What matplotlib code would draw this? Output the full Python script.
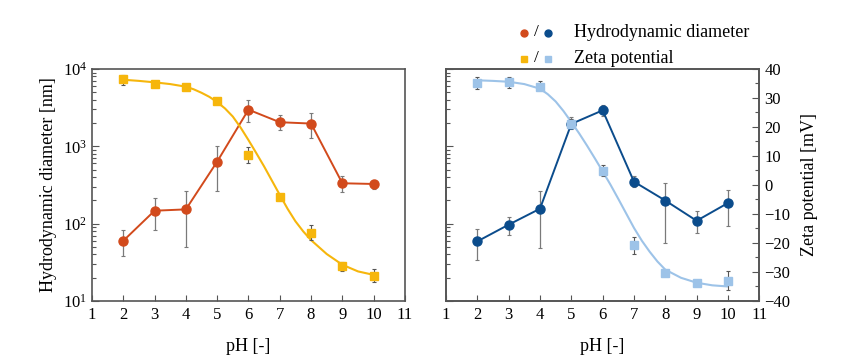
import matplotlib
matplotlib.use("Agg")
import matplotlib.pyplot as plt
from matplotlib.ticker import LogLocator, MultipleLocator, NullFormatter
import numpy as np

plt.rcParams['font.family'] = ['Liberation Serif', 'DejaVu Serif']
plt.rcParams['mathtext.fontset'] = 'stix'

# --- data ---
ph = [2, 3, 4, 5, 6, 7, 8, 9, 10]

# left sample: hydrodynamic diameter [nm] with error bar ends
d_left = [60, 147, 153, 634, 2980, 2050, 1970, 333, 326]
d_left_lo = [38, 83, 49.5, 265, 2090, 1630, 1270, 259, 284]
d_left_hi = [83, 213, 262, 1020, 3980, 2550, 2680, 414, 367]

# left sample: zeta potential [mV]
z_left = [36.4, 34.8, 33.8, 29.0, 10.3, -4.0, -16.4, -27.9, -31.3]
z_left_lo = [34.5, 33.7, 32.8, 27.8, 7.5, -4.9, -19.0, -29.6, -33.6]
z_left_hi = [37.9, 35.9, 34.8, 29.9, 13.2, -3.1, -13.8, -26.4, -29.0]

# right sample: hydrodynamic diameter [nm]
d_right = [59, 97, 156, 1950, 2920, 349, 199, 109, 185]
d_right_lo = [34, 72, 48.5, 1680, 2500, 295, 56, 76, 94]
d_right_hi = [85, 123, 262, 2380, 3450, 409, 336, 144, 275]

# right sample: zeta potential [mV]
z_right = [35.3, 35.5, 33.9, 21.0, 4.8, -20.8, -30.4, -33.8, -33.1]
z_right_lo = [33.0, 33.6, 33.0, 19.8, 3.2, -23.9, -31.3, -34.6, -36.3]
z_right_hi = [37.4, 37.4, 36.0, 22.9, 6.8, -17.8, -29.4, -32.9, -29.7]

# fitted zeta curves
fit_ph = [2, 2.5, 3, 3.5, 4, 4.25, 4.5, 4.75, 5, 5.25, 5.5, 5.75, 6, 6.25, 6.5,
          6.75, 7, 7.25, 7.5, 7.75, 8, 8.5, 9, 9.5, 10]
fit_left = [36.3, 35.9, 35.4, 34.8, 33.9, 33.0, 31.8, 30.4, 28.6, 26.4, 23.6, 19.8,
            15.5, 11.0, 6.4, 1.5, -3.4, -8.2, -12.5, -16.0, -19.0, -23.8, -27.5,
            -29.8, -31.0]
fit_right = [36.1, 35.9, 35.6, 34.8, 33.2, 31.3, 28.8, 25.5, 21.7, 17.8, 13.6, 9.2,
             4.7, 0.1, -4.8, -9.8, -14.8, -19.2, -23.0, -26.4, -29.2, -32.0, -33.7,
             -34.6, -35.0]

ORANGE = '#D24A1C'
YELLOW = '#F6B60C'
DBLUE = '#0B4C8C'
LBLUE = '#9DC3E8'
GREY = '#7A7A7A'
SPINE = '#555555'


def asym(y, lo, hi):
    y = np.array(y); lo = np.array(lo); hi = np.array(hi)
    return [y - lo, hi - y]


def style_log(ax, labels=True):
    ax.set_yscale('log')
    ax.set_ylim(10, 1e4)
    ax.set_xlim(1, 11)
    ax.set_xticks(range(1, 12))
    ax.yaxis.set_major_locator(LogLocator(base=10, numticks=10))
    ax.yaxis.set_minor_locator(LogLocator(base=10, subs=np.arange(2, 10), numticks=10))
    ax.yaxis.set_minor_formatter(NullFormatter())
    ax.tick_params(axis='x', direction='in', length=4, width=0.8, color=SPINE,
                   labelsize=12, pad=4)
    ax.tick_params(axis='y', which='both', direction='in', color=SPINE, width=0.8,
                   left=True, labelleft=labels, labelsize=12)
    ax.tick_params(axis='y', which='major', length=5)
    ax.tick_params(axis='y', which='minor', length=3)
    for s in ax.spines.values():
        s.set_color(SPINE)
        s.set_linewidth(1.2)


fig = plt.figure(figsize=(8.5, 3.59), dpi=100)

# ---- left panel ----
ax1 = fig.add_axes([0.1082, 0.1616, 0.3682, 0.6462])
style_log(ax1, labels=True)
ax1.tick_params(axis='y', which='both', right=True)
ax1.errorbar(ph, d_left, yerr=asym(d_left, d_left_lo, d_left_hi), fmt='none',
             ecolor=GREY, elinewidth=0.9, capsize=1.6, capthick=0.8, zorder=2)
ax1.plot(ph, d_left, '-o', color=ORANGE, lw=1.4, ms=6.5, zorder=3)
ax1.set_ylabel('Hydrodynamic diameter [nm]', fontsize=13, labelpad=4)
ax1.set_xlabel('pH [-]', fontsize=13, labelpad=11)

ax1z = ax1.twinx()
ax1z.set_ylim(-40, 40)
ax1z.set_xlim(1, 11)
ax1z.axis('off')
ax1z.plot(fit_ph, fit_left, '-', color=YELLOW, lw=1.5, zorder=2)
ax1z.errorbar(ph, z_left, yerr=asym(z_left, z_left_lo, z_left_hi), fmt='none',
              ecolor='#555555', elinewidth=0.8, capsize=1.6, capthick=0.8, zorder=3)
ax1z.plot(ph, z_left, 's', color=YELLOW, ms=5.5, zorder=4)

# ---- right panel ----
ax2 = fig.add_axes([0.5247, 0.1616, 0.3686, 0.6462])
style_log(ax2, labels=False)
ax2.tick_params(axis='y', which='both', right=False)
ax2.errorbar(ph, d_right, yerr=asym(d_right, d_right_lo, d_right_hi), fmt='none',
             ecolor=GREY, elinewidth=0.9, capsize=1.6, capthick=0.8, zorder=2)
ax2.plot(ph, d_right, '-o', color=DBLUE, lw=1.4, ms=6.5, zorder=3)
ax2.set_xlabel('pH [-]', fontsize=13, labelpad=11)

ax2z = ax2.twinx()
ax2z.set_ylim(-40, 40)
ax2z.set_xlim(1, 11)
ax2z.yaxis.set_major_locator(MultipleLocator(10))
ax2z.yaxis.set_minor_locator(MultipleLocator(5))
ax2z.tick_params(axis='y', which='both', direction='in', color=SPINE, width=0.8,
                 labelsize=12)
ax2z.tick_params(axis='y', which='major', length=5)
ax2z.tick_params(axis='y', which='minor', length=3)
for s in ax2z.spines.values():
    s.set_color(SPINE)
    s.set_linewidth(1.2)
ax2z.set_ylabel('Zeta potential [mV]', fontsize=13, labelpad=8)
ax2z.plot(fit_ph, fit_right, '-', color=LBLUE, lw=1.5, zorder=2)
ax2z.errorbar(ph, z_right, yerr=asym(z_right, z_right_lo, z_right_hi), fmt='none',
              ecolor='#555555', elinewidth=0.8, capsize=1.6, capthick=0.8, zorder=3)
ax2z.plot(ph, z_right, 's', color=LBLUE, ms=5.5, zorder=4)

# ---- legend drawn at figure level ----
leg = fig.add_axes([0, 0, 1, 1], zorder=5)
leg.set_xlim(0, 850)
leg.set_ylim(359, 0)
leg.axis('off')
leg.plot([524], [32.5], 'o', color=ORANGE, ms=5)
leg.plot([548], [32.5], 'o', color=DBLUE, ms=5)
leg.plot([524], [58.5], 's', color=YELLOW, ms=4.5)
leg.plot([548], [58.5], 's', color=LBLUE, ms=4.5)
leg.text(536, 32.5, '/', ha='center', va='center', fontsize=12.5)
leg.text(536, 58.5, '/', ha='center', va='center', fontsize=12.5)
leg.text(574, 32.5, 'Hydrodynamic diameter', ha='left', va='center', fontsize=13)
leg.text(574, 58.5, 'Zeta potential', ha='left', va='center', fontsize=13)

fig.savefig('out.png', dpi=100)
